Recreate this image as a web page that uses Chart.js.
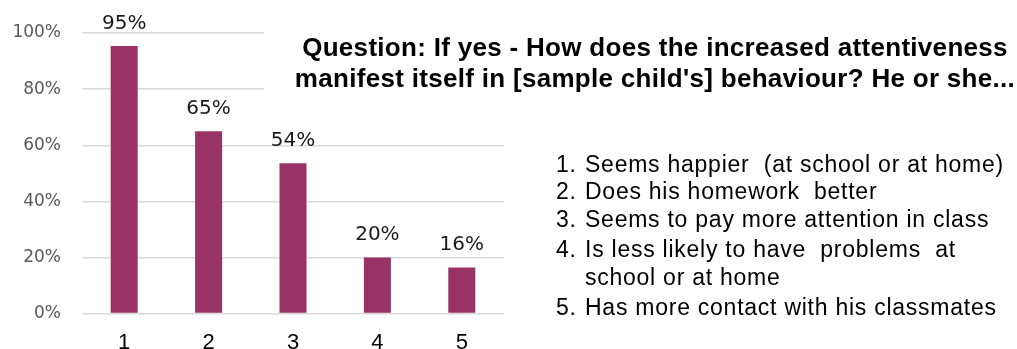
<!DOCTYPE html>
<html>
<head>
<meta charset="utf-8">
<script src="https://cdn.jsdelivr.net/npm/chart.js@4.4.1/dist/chart.umd.min.js"></script>
<style>
  html, body { margin: 0; padding: 0; background: #ffffff; }
  #wrap { width: 1017px; height: 349px; position: relative; }
</style>
</head>
<body>
<div id="wrap"><canvas id="c" width="1017" height="349"></canvas></div>
<script>
// ---- data ----
const categories = ["1", "2", "3", "4", "5"];
const values = [95.4, 65, 53.6, 20, 16.4];
const valueLabels = ["95%", "65%", "54%", "20%", "16%"];
const yTicks = [0, 20, 40, 60, 80, 100];
const titleLines = [
  "Question: If yes - How does the increased attentiveness",
  "manifest itself in [sample child's] behaviour? He or she..."
];
const legendNumbers = ["1.", "2.", "3.", "4.", "", "5."];
const legendLines = [
  "Seems happier  (at school or at home)",
  "Does his homework  better",
  "Seems to pay more attention in class",
  "Is less likely to have  problems  at",
  "school or at home",
  "Has more contact with his classmates"
];

const BAR_COLOR = "#993366";

const overlayPlugin = {
  id: "overlay",
  afterDatasetsDraw(chart) {
    const ctx = chart.ctx;
    // white box behind title (covers top gridlines)
    ctx.save();
    ctx.fillStyle = "#ffffff";
    ctx.fillRect(264, 18, 1017 - 264, 80);
    ctx.restore();

    // data labels
    const meta = chart.getDatasetMeta(0);
    ctx.save();
    ctx.font = '20px "DejaVu Sans", sans-serif';
    ctx.fillStyle = "#1a1a1a";
    ctx.textAlign = "center";
    ctx.textBaseline = "alphabetic";
    meta.data.forEach((bar, i) => {
      ctx.fillText(valueLabels[i], bar.x, bar.y - 17);
    });
    ctx.restore();
  },
  afterDraw(chart) {
    const ctx = chart.ctx;
    // title
    ctx.save();
    ctx.font = 'bold 26px "Liberation Sans", Arial, sans-serif';
    try { ctx.letterSpacing = "0.3px"; } catch (e) {}
    ctx.fillStyle = "#000000";
    ctx.textAlign = "center";
    ctx.textBaseline = "alphabetic";
    const tBase = [56, 87];
    titleLines.forEach((t, i) => ctx.fillText(t, 655, tBase[i]));
    ctx.restore();

    // legend list
    ctx.save();
    ctx.font = '23px "Liberation Sans", Arial, sans-serif';
    try { ctx.letterSpacing = "0.75px"; } catch (e) {}
    ctx.fillStyle = "#000000";
    ctx.textAlign = "left";
    ctx.textBaseline = "alphabetic";
    const lBase = [172, 199, 227, 257, 285, 315];
    legendLines.forEach((t, i) => {
      if (legendNumbers[i]) ctx.fillText(legendNumbers[i], 556, lBase[i]);
      ctx.fillText(t, 585, lBase[i]);
    });
    ctx.restore();
  }
};

new Chart(document.getElementById("c"), {
  type: "bar",
  data: {
    labels: categories,
    datasets: [{
      data: values,
      backgroundColor: BAR_COLOR,
      borderWidth: 0,
      barPercentage: 1,
      categoryPercentage: 0.32
    }]
  },
  options: {
    responsive: false,
    devicePixelRatio: 1,
    animation: false,
    layout: { padding: { top: 33, right: 513, left: 0, bottom: 0 } },
    plugins: {
      legend: { display: false },
      title: { display: false },
      tooltip: { enabled: false }
    },
    scales: {
      x: {
        grid: { display: false, drawTicks: false },
        border: { display: false },
        ticks: {
          color: "#000000",
          font: { family: '"Liberation Sans", Arial, sans-serif', size: 22 },
          padding: 16
        },
        afterFit(scale) { scale.height = 35.5; }
      },
      y: {
        min: 0,
        max: 100,
        afterBuildTicks(scale) { scale.ticks = yTicks.map(v => ({ value: v })); },
        grid: { color: "#d9d9d9", lineWidth: 1.4, drawTicks: false },
        border: { display: false },
        ticks: {
          color: "#595959",
          font: { family: '"DejaVu Sans", sans-serif', size: 17 },
          padding: 21,
          callback: (v) => v + "%"
        },
        afterFit(scale) { scale.width = 82; }
      }
    }
  },
  plugins: [overlayPlugin]
});
</script>
</body>
</html>
